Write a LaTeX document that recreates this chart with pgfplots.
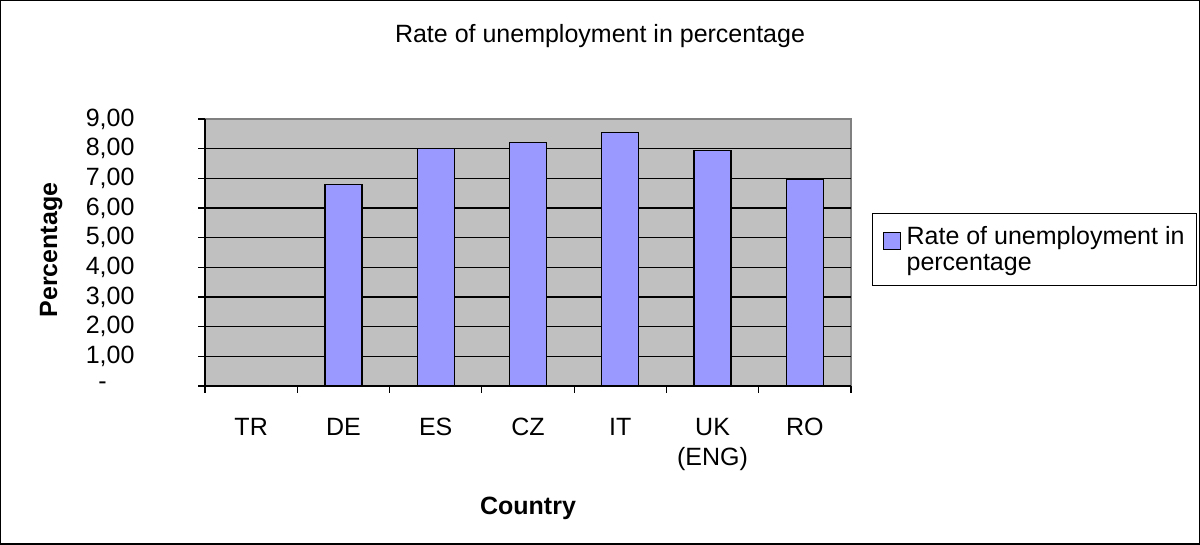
\documentclass[border=0pt]{standalone}
\usepackage{pgfplots}
\pgfplotsset{compat=1.18}
\usepackage{fontspec}
\setmainfont{Liberation Sans}
\definecolor{barblue}{HTML}{9999FF}
\definecolor{plotgray}{HTML}{C0C0C0}
\definecolor{edgegray}{HTML}{808080}
\newcommand\labfont{\fontsize{25bp}{30bp}\selectfont}
\newcommand\legfont{\fontsize{25bp}{26bp}\selectfont}

\begin{document}
\begin{tikzpicture}[x=1bp,y=1bp]
\useasboundingbox (0,0) rectangle (1200,545);
\draw[line width=1.5bp] (0.75,0.75) rectangle (1199.25,544.25);
\begin{axis}[
    at={(205bp,159bp)}, anchor=south west,
    scale only axis, width=646bp, height=267bp,
    xmin=-0.5, xmax=6.5, ymin=0, ymax=9,
    axis background/.style={fill=plotgray, draw=edgegray, line width=1.2bp},
    axis x line*=bottom, axis y line*=left,
    axis line style={black, line width=1.2bp, -},
    tick align=outside,
    ytick={1,...,8},
    yticklabels={{1,00},{2,00},{3,00},{4,00},{5,00},{6,00},{7,00},{8,00}},
    extra y ticks={0,9},
    extra y tick labels={-\hphantom{00},{9,00}},
    extra y tick style={grid=none},
    ymajorgrids,
    grid style={black, line width=1.2bp},
    major tick length=7bp,
    ytick style={black, line width=1.2bp},
    yticklabel style={font=\labfont, xshift=-60bp},
    xtick={0,...,6},
    xticklabels={TR,DE,ES,CZ,IT,{UK\\(ENG)},RO},
    major x tick style={draw=none},
    minor xtick={-0.5,0.5,...,6.5},
    minor tick length=7bp,
    minor x tick style={black, line width=1.2bp},
    xticklabel style={font=\labfont, align=center, anchor=north, yshift=-22bp},
    title={Rate of unemployment in percentage},
    title style={font=\labfont, at={(axis description cs:0.6115,1.288)}, anchor=center},
    xlabel={Country},
    xlabel style={font=\labfont\bfseries, at={(axis description cs:0.5,-0.457)}, anchor=center},
    ylabel={Percentage},
    ylabel style={font=\labfont\bfseries, at={(axis description cs:-0.238,0.509)}, anchor=center},
    legend style={at={(axis description cs:1.0325,0.648)}, anchor=north west,
        draw=black, line width=1.2bp, font=\legfont, cells={align=left},
        inner xsep=10bp, inner ysep=11bp,
        /tikz/column 1/.style={column sep=4bp}},
    legend image code/.code={%
        \draw[#1, line width=1bp] (0bp,0bp) rectangle (17bp,17bp);},
]
\addplot[ybar, bar width=37bp, fill=barblue, draw=black, line width=1.2bp]
    coordinates {(0,0) (1,6.8) (2,8.0) (3,8.2) (4,8.55) (5,7.95) (6,6.95)};
\legend{Rate of unemployment in\\percentage}
\end{axis}
\end{tikzpicture}
\end{document}
